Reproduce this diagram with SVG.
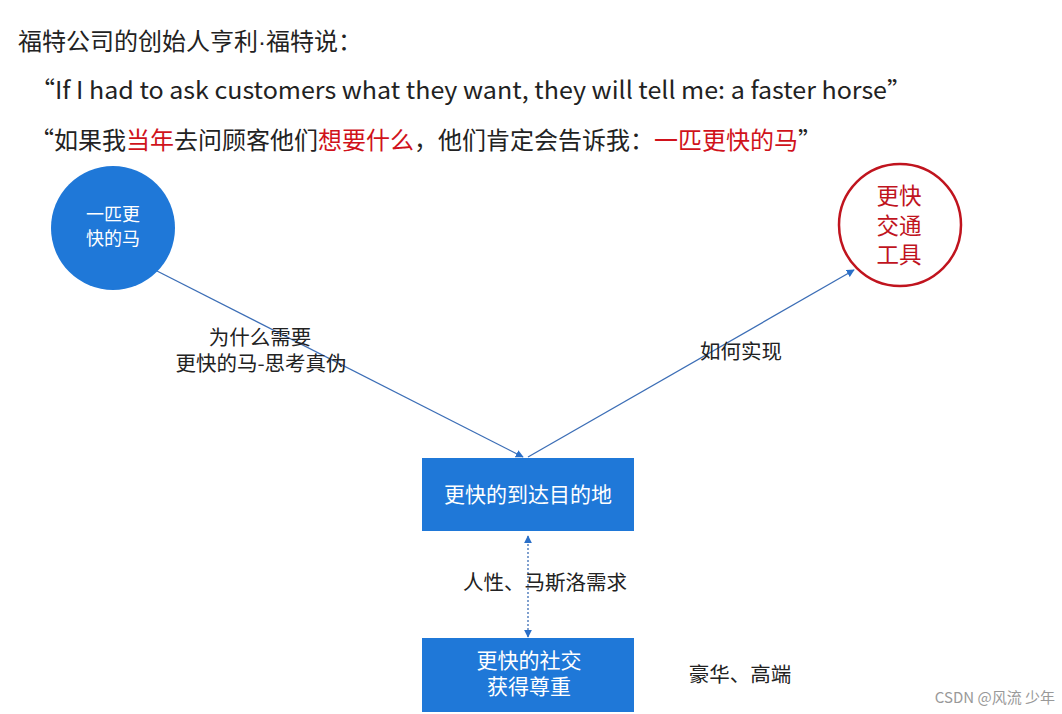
<svg xmlns="http://www.w3.org/2000/svg" width="1062" height="714" viewBox="0 0 1062 714">
<style>
text{font-family:"Noto Sans CJK SC","Noto Sans",sans-serif;}
.t{fill:#222;font-size:24px;}
.red{fill:#D0121B;}
.lbl{fill:#222;font-size:20.5px;text-anchor:middle;}
.w{fill:#fff;text-anchor:middle;}
.box{fill:#1F78D8;}
.ln{stroke:#3C6EB6;stroke-width:1.3;fill:none;}
</style>
<defs>
<marker id="ah" viewBox="0 0 10 10" refX="9" refY="5" markerWidth="8" markerHeight="8" markerUnits="userSpaceOnUse" orient="auto-start-reverse">
<path d="M0,0L10,5L0,10z" fill="#2A6FC8"/>
</marker>
</defs>
<rect width="1062" height="714" fill="#fff"/>
<g id="title">
<text class="t" x="18" y="50" font-size="22">福特公司的创始人亨利<tspan font-family="Liberation Sans">·</tspan>福特说：</text>
<text class="t" x="30" y="99" textLength="882" lengthAdjust="spacingAndGlyphs">“If I had to ask customers what they want, they will tell me: a faster horse”</text>
<text class="t" x="30" y="149" font-size="24.9">“如果我<tspan class="red">当年</tspan>去问顾客他们<tspan class="red">想要什么</tspan>，他们肯定会告诉我：<tspan class="red">一匹更快的马</tspan>”</text>
</g>
<g id="connectors">
<line class="ln" x1="157" y1="271" x2="523" y2="457" marker-end="url(#ah)"/>
<line class="ln" x1="528" y1="457" x2="854" y2="270" marker-end="url(#ah)"/>
<line class="ln" x1="528" y1="536" x2="528" y2="637" stroke-dasharray="2,2" marker-start="url(#ah)" marker-end="url(#ah)"/>
<text class="lbl" x="260" y="345">为什么需要</text>
<text class="lbl" x="261" y="371">更快的马-思考真伪</text>
<text class="lbl" x="741" y="359">如何实现</text>
<text class="lbl" x="545" y="590">人性、马斯洛需求</text>
</g>
<g id="horse">
<circle cx="113" cy="228" r="62" fill="#1F78D8"/>
<text class="w" x="113" y="221" font-size="18">一匹更</text>
<text class="w" x="113" y="245" font-size="18">快的马</text>
</g>
<g id="vehicle">
<circle cx="900" cy="225" r="61" fill="#fff" stroke="#C0141E" stroke-width="2.5"/>
<text x="899" y="204" font-size="22.5" fill="#C0141E" text-anchor="middle">更快</text>
<text x="899" y="234" font-size="22.5" fill="#C0141E" text-anchor="middle">交通</text>
<text x="899" y="263" font-size="22.5" fill="#C0141E" text-anchor="middle">工具</text>
</g>
<g id="arrive">
<rect class="box" x="422" y="458" width="212" height="73"/>
<text class="w" x="528" y="502" font-size="21">更快的到达目的地</text>
</g>
<g id="social">
<rect class="box" x="422" y="638" width="212" height="74"/>
<text class="w" x="529" y="668" font-size="21">更快的社交</text>
<text class="w" x="529" y="694" font-size="21">获得尊重</text>
</g>
<g id="luxury">
<text class="lbl" x="740" y="682">豪华、高端</text>
</g>
<text x="1055" y="703" font-size="15" fill="#999" text-anchor="end">CSDN @风流 少年</text>
</svg>
